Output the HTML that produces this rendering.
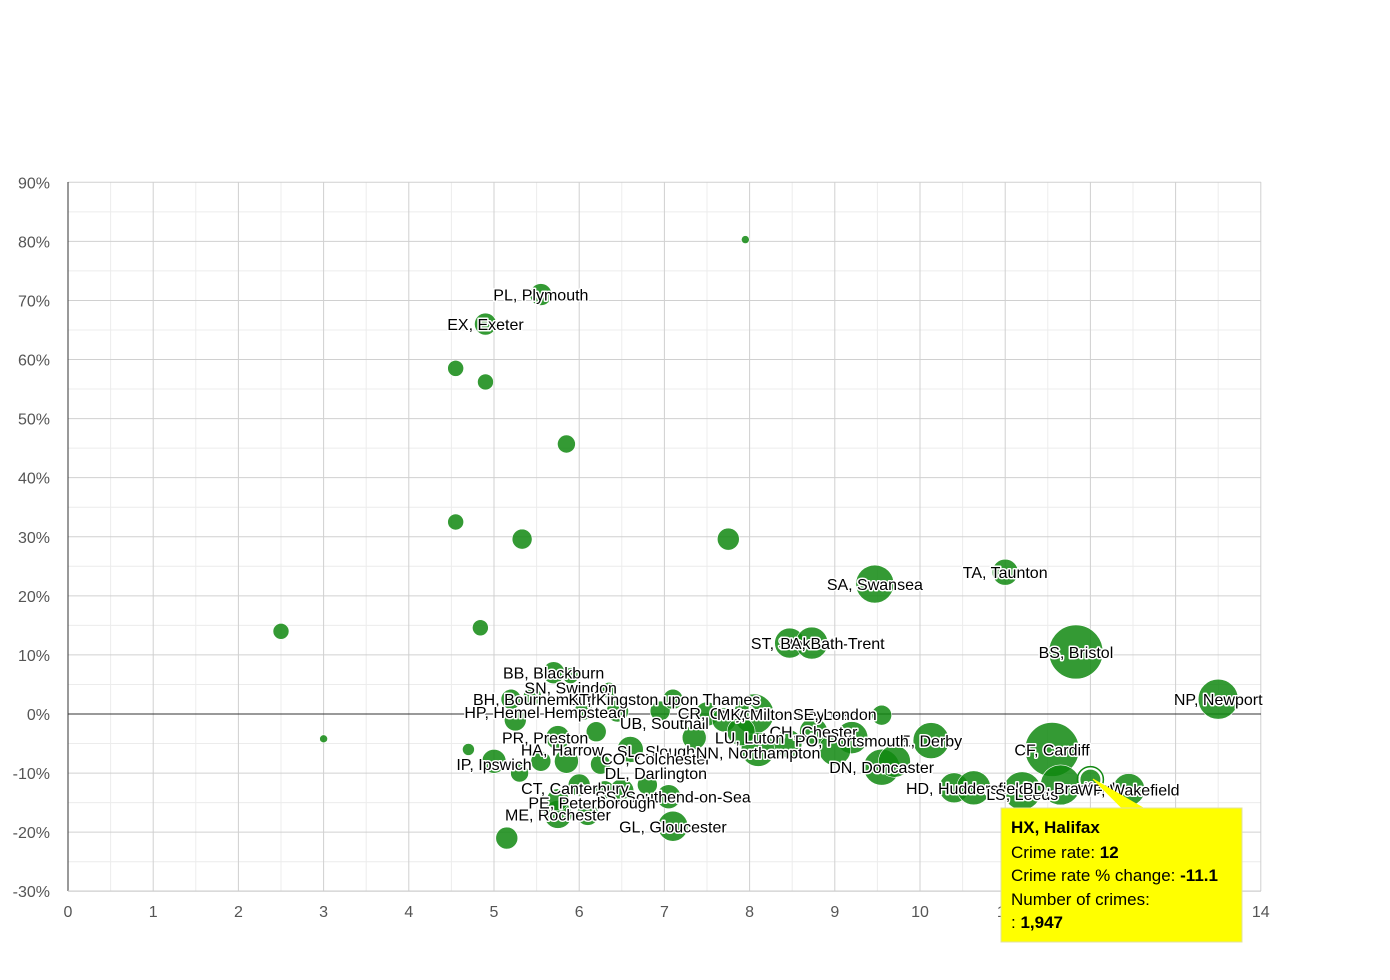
<!DOCTYPE html>
<html><head><meta charset="utf-8"><style>
body{margin:0;background:#fff;}
svg{display:block;font-family:"Liberation Sans",sans-serif;}
.lbl{font-size:16px;fill:#000;stroke:#fff;stroke-width:3px;paint-order:stroke;stroke-linejoin:round;}
.tick{font-size:16px;fill:#555;}
</style></head><body>
<svg id="chart" width="1390" height="980" viewBox="0 0 1390 980">
<g id="grid"></g>
<g id="axes"></g>
<g id="bubbles"></g>
<g id="labels"></g>
<g id="tooltip">
<path d="M1093,779 L1123,809 L1145,809 Z" fill="#ffff00" stroke="#ffff00"/>
<rect x="1001" y="808" width="241" height="134" fill="#ffff00" stroke="#e0e0a0"/>
<text x="1011" y="833" font-size="17" font-weight="bold">HX, Halifax</text>
<text x="1011" y="858" font-size="17">Crime rate: <tspan font-weight="bold">12</tspan></text>
<text x="1011" y="881" font-size="17">Crime rate % change: <tspan font-weight="bold">-11.1</tspan></text>
<text x="1011" y="905" font-size="17">Number of crimes:</text>
<text x="1011" y="928" font-size="17">: <tspan font-weight="bold">1,947</tspan></text>
</g>
</svg>
<script>
const xTicks=[0,1,2,3,4,5,6,7,8,9,10,11,12,13,14];
const yTicks=[90,80,70,60,50,40,30,20,10,0,-10,-20,-30];
const xs=[7.95,5.55,4.9,4.55,4.9,5.85,4.55,5.33,7.75,9.47,11.0,2.5,4.84,8.47,8.73,11.83,13.5,3.0,4.7,11.55,10.13,9.55,10.4,10.63,11.2,11.65,12.45,9.55,8.05,7.1,5.75,5.15,6.1,5.7,5.9,6.35,5.2,5.45,6.05,6.45,6.95,7.1,7.5,7.7,8.75,9.2,8.1,7.35,6.6,6.2,5.75,5.25,5.0,5.3,5.55,5.85,6.25,6.5,7.05,6.8,6.3,6.0,5.75,7.9,8.45,9.0,9.7,12.0];
const ys=[80.3,71,66,58.5,56.2,45.7,32.5,29.6,29.6,22,24,14,14.6,12,12,10.5,2.5,-4.2,-6,-6,-4.5,-9,-12.5,-12.5,-13,-12,-12.8,-0.2,0,-19,-17,-21,-17,7,6.5,4,2.5,3,0.5,0.5,0.5,2.5,0,-1,-3,-4,-6,-4,-6,-3,-4,-1,-8,-10,-8,-8,-8.5,-13,-14,-12,-13,-12,-14.5,-3,-5,-6,-8,-11.1];
const rs=[4,11,11,8,8,9,8,10,11,19,13,8,8,15,16,27,20,4,6,27,18,18,15,17,19,20,16,10,20,15,14,11,11,11,8,8,10,9,9,11,10,10,12,12,14,16,17,12,13,10,12,11,12,9,10,12,10,12,12,10,10,11,11,14,14,16,16,11];
const labelText=["PL, Plymouth","EX, Exeter","SA, Swansea","TA, Taunton","ST, Stoke-on-Trent","BA, Bath","BS, Bristol","NP, Newport","CF, Cardiff","E, Derby","DN, Doncaster","HD, Huddersfield","LS, Leeds","BD, Bradford","WF, Wakefield","GL, Gloucester","ME, Rochester","BB, Blackburn","SN, Swindon","BH, Bournemouth","HP, Hemel Hempstead","UB, Southall","CR, Croydon","MK, Milton Keynes","CH, Chester","PO, Portsmouth","PR, Preston","HA, Harrow","SL, Slough","CO, Colchester","LU, Luton","IP, Ipswich","DL, Darlington","CT, Canterbury","SS, Southend-on-Sea","PE, Peterborough","KT, Kingston upon Thames","SE, London","NN, Northampton"];
const labelX=[5.55,4.9,9.47,11.0,8.8,8.73,11.83,13.5,11.55,10.13,9.55,10.55,11.2,11.75,12.45,7.1,5.75,5.7,5.9,5.5,5.6,7.0,7.7,8.4,8.75,9.2,5.6,5.8,6.9,6.9,8.0,5.0,6.9,5.95,7.1,6.15,7.0,9.0,8.1];
const labelY=[71,66,22,24,12,12,10.5,2.5,-6,-4.5,-9,-12.5,-13.5,-12.5,-12.8,-19,-17,7,4.5,2.5,0.3,-1.5,0.2,0,-3,-4.5,-4,-6,-6.3,-7.5,-4,-8.5,-10,-12.5,-14,-15,2.5,0,-6.5];
const X=v=>68+v*85.2, Y=p=>714-p*5.908;
const NS="http://www.w3.org/2000/svg";
function mk(t,a,p){const e=document.createElementNS(NS,t);for(const k in a)e.setAttribute(k,a[k]);p.appendChild(e);return e;}
const grid=document.getElementById('grid'),axes=document.getElementById('axes');
for(let v=0.5;v<14;v+=1){const l=mk('line',{x1:X(v),x2:X(v),y1:182,y2:891,stroke:'#ececec'},grid);

}
for(let p=85;p>-30;p-=10){const l=mk('line',{x1:68,x2:1261,y1:Y(p),y2:Y(p),stroke:'#ececec'},grid);

}
xTicks.forEach(v=>{const l=mk('line',{x1:X(v),x2:X(v),y1:182,y2:891,stroke:'#d0d0d0'},grid);


const t=mk('text',{x:X(v),y:917,'text-anchor':'middle',class:'tick'},axes);t.textContent=v;

});
yTicks.forEach(p=>{const l=mk('line',{x1:68,x2:1261,y1:Y(p),y2:Y(p),stroke:p===0?'#333':'#d0d0d0'},grid);


const t=mk('text',{x:50,y:Y(p)+6,'text-anchor':'end',class:'tick'},axes);t.textContent=p+'%';

});
const ax=mk('line',{x1:68,x2:68,y1:182,y2:891,stroke:'#333'},axes);


const bx=mk('line',{x1:68,x2:1261,y1:891,y2:891,stroke:'#ccc'},axes);


const bg=document.getElementById('bubbles');
xs.forEach((v,i)=>{const last=i===xs.length-1;
const c=mk('circle',{cx:X(v),cy:Y(ys[i]),r:rs[i],fill:'#118811','fill-opacity':0.85,stroke:'#fff','stroke-width':last?2:0.6},bg);


if(last){const h=mk('circle',{cx:X(v),cy:Y(ys[i]),r:rs[i]+2,fill:'none',stroke:'#118811','stroke-width':1.5},bg);

}});
const lg=document.getElementById('labels');
labelText.forEach((s,i)=>{const t=mk('text',{x:X(labelX[i]),y:Y(labelY[i])+6,'text-anchor':'middle',class:'lbl'},lg);t.textContent=s;

});
</script>
</body></html>
